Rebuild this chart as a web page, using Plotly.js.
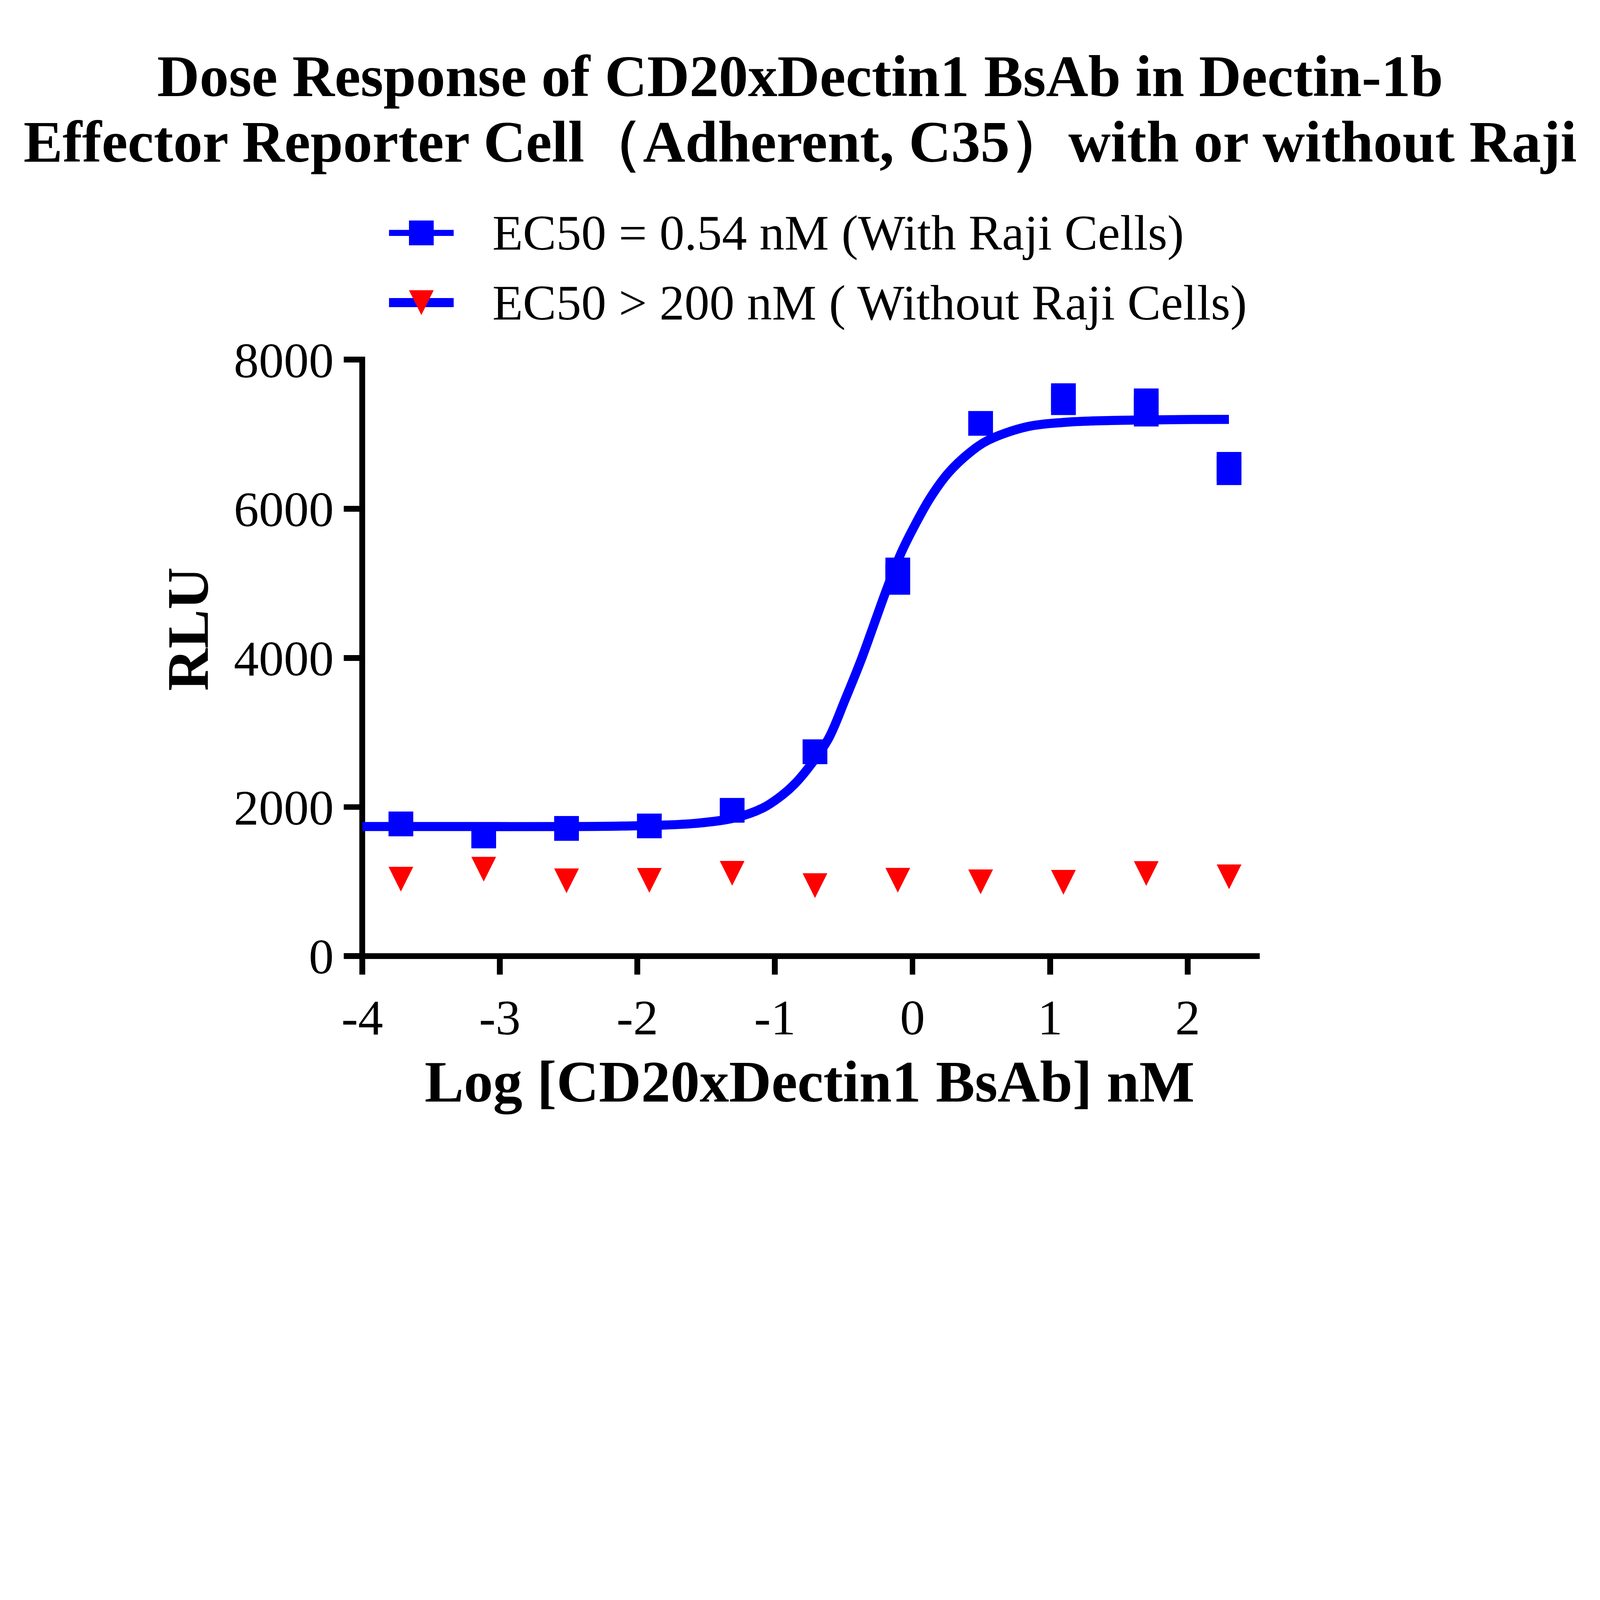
<!DOCTYPE html>
<html>
<head>
<meta charset="utf-8">
<script src="https://cdn.plot.ly/plotly-3.0.1.min.js"></script>
<style>
  html, body { margin: 0; padding: 0; background: #fff; overflow: hidden; }
  #chart { width: 6334px; height: 4578px; transform-origin: 0 0; }
</style>
</head>
<body>
<div id="chart"></div>
<script>
// data
const logDose = [-3.719, -3.117, -2.515, -1.913, -1.311, -0.709, -0.107, 0.495, 1.097, 1.699, 2.301];
const rluWithRaji = [1773, 1611, 1713, 1746, 1956, 2741, 5096, 7146, 7471, 7359, 6540];
const errWithRaji = [0, 0, 0, 0, 0, 0, 249, 0, 213, 255, 222];
const rluWithoutRaji = [1032, 1166, 1010, 1016, 1111, 945, 1018, 996, 990, 1108, 1064];

// fitted curve
const fitX = [-4.0, -3.2, -2.4, -2.1, -1.85, -1.57, -1.29, -1.09, -0.96, -0.85, -0.74, -0.61, -0.49,
              -0.37, -0.28, -0.18, -0.08, 0.02, 0.13, 0.26, 0.41, 0.55, 0.83, 1.11, 1.39, 1.94, 2.30];
const fitY = [1738, 1738, 1738, 1745, 1755, 1782, 1855, 1985, 2141, 2321, 2565, 2920, 3440,
              3990, 4450, 4960, 5420, 5790, 6150, 6480, 6745, 6920, 7100, 7160, 7183, 7197, 7200];

const xTicks = [-4, -3, -2, -1, 0, 1, 2];
const yTicks = [0, 2000, 4000, 6000, 8000];

const titleLines = ['Dose Response of CD20xDectin1 BsAb in Dectin-1b',
                    'Effector Reporter Cell（Adherent, C35）with or without Raji'];
const xTitle = 'Log [CD20xDectin1 BsAb] nM';
const yTitle = 'RLU';
const seriesNames = ['EC50 = 0.54 nM (With Raji Cells)', 'EC50 &gt; 200 nM ( Without Raji Cells)'];

// page geometry (pixels of the reference)
const W = 6334, H = 4578;
const px = v => v / W;
const py = v => 1 - v / H;
const BLUE = '#0000FF', RED = '#FF0000';
const SERIF = 'Liberation Serif, Times New Roman, serif';

// fit the drawing into whatever viewport we get
const fit = Math.min(window.innerWidth / W, window.innerHeight / H);
if (fit > 0 && Math.abs(fit - 1) > 0.001) {
  document.getElementById('chart').style.transform = 'scale(' + fit + ')';
}

const axisCommon = {
  showgrid: false, zeroline: false, showline: false,
  ticks: 'outside', ticklen: 72, tickwidth: 23, tickcolor: '#000',
  tickfont: { family: SERIF, size: 198, color: '#000' },
  fixedrange: true
};

const traces = [
  {
    x: fitX, y: fitY, mode: 'lines', type: 'scatter',
    line: { color: BLUE, width: 36, shape: 'spline', smoothing: 1 },
    hoverinfo: 'none', showlegend: false
  },
  {
    x: logDose, y: rluWithRaji, mode: 'markers', type: 'scatter',
    marker: { symbol: 'square', size: 98, color: BLUE, line: { width: 0 } },
    error_y: { type: 'data', array: errWithRaji, visible: true, color: BLUE, thickness: 98, width: 0 },
    hoverinfo: 'none', showlegend: false
  },
  {
    x: logDose, y: rluWithoutRaji, mode: 'markers', type: 'scatter',
    marker: { symbol: 'arrow-down', size: 98, standoff: 49, color: RED, line: { width: 0 } },
    hoverinfo: 'none', showlegend: false
  }
];

const shapes = [
  // axis lines
  { type: 'line', xref: 'paper', yref: 'paper', x0: px(1434), x1: px(1434), y0: py(1412), y1: py(3797),
    line: { color: '#000', width: 23 }, layer: 'below' },
  { type: 'line', xref: 'paper', yref: 'paper', x0: px(1422), x1: px(4987), y0: py(3785), y1: py(3785),
    line: { color: '#000', width: 23 }, layer: 'below' },
  // legend glyphs
  { type: 'line', xref: 'paper', yref: 'paper', x0: px(1540), x1: px(1796), y0: py(922), y1: py(922),
    line: { color: BLUE, width: 24 } },
  { type: 'rect', xref: 'paper', yref: 'paper', x0: px(1619), x1: px(1717), y0: py(873), y1: py(971),
    fillcolor: BLUE, line: { width: 0 } },
  { type: 'line', xref: 'paper', yref: 'paper', x0: px(1540), x1: px(1796), y0: py(1198), y1: py(1198),
    line: { color: BLUE, width: 36 } },
  { type: 'path', xref: 'paper', yref: 'paper',
    path: 'M' + px(1619) + ',' + py(1149) + ' L' + px(1717) + ',' + py(1149) + ' L' + px(1668) + ',' + py(1247) + ' Z',
    fillcolor: RED, line: { width: 0 } }
];

const boldFont = { family: SERIF, size: 232, color: '#000', weight: 700 };
const plainFont = { family: SERIF, size: 198, color: '#000' };

const annotations = [
  { text: titleLines[0], x: px(3167), y: py(301), font: boldFont },
  { text: titleLines[1], x: px(3167), y: py(561), font: boldFont },
  { text: xTitle, x: px(3205), y: py(4283), font: boldFont },
  { text: yTitle, x: px(743), y: py(2490), textangle: -90, font: boldFont },
  { text: seriesNames[0], x: px(1947), y: py(921), xanchor: 'left', font: plainFont },
  { text: seriesNames[1], x: px(1947), y: py(1198), xanchor: 'left', font: plainFont }
].map(a => Object.assign({ xref: 'paper', yref: 'paper', showarrow: false, xanchor: 'center', yanchor: 'middle' }, a));

const layout = {
  width: W, height: H,
  margin: { l: 0, r: 0, t: 0, b: 0, pad: 0 },
  paper_bgcolor: '#fff', plot_bgcolor: '#fff',
  showlegend: false,
  xaxis: Object.assign({}, axisCommon, {
    domain: [px(1434), px(4987)], range: [-4, 2.524],
    tickvals: xTicks, ticktext: xTicks.map(String)
  }),
  yaxis: Object.assign({}, axisCommon, {
    domain: [py(3785), py(1424)], range: [0, 8000],
    tickvals: yTicks, ticktext: yTicks.map(String)
  }),
  shapes: shapes,
  annotations: annotations
};

Plotly.newPlot('chart', traces, layout, { staticPlot: true, displayModeBar: false });
</script>
</body>
</html>
